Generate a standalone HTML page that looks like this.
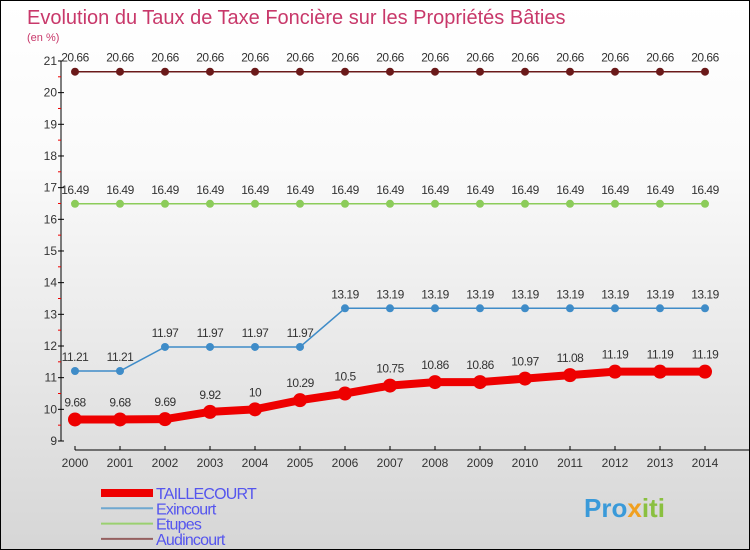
<!DOCTYPE html>
<html><head><meta charset="utf-8"><style>
body{margin:0}
#c{width:750px;height:550px;position:relative;box-sizing:border-box;border:1px solid #000;background:linear-gradient(#fff,#fafafa 30%,#d6d6d6);font-family:"Liberation Sans",sans-serif;overflow:hidden}
</style></head><body>
<div id="c">
<svg id="s" width="748" height="548" font-family="Liberation Sans,sans-serif">
<text x="26" y="23" font-size="20" fill="#c8386a">Evolution du Taux de Taxe Foncière sur les Propriétés Bâties</text>
<text x="26" y="40" font-size="11" fill="#c8386a">(en %)</text>
<g id="g"></g>
<text x="583" y="516" font-size="26" font-weight="bold" fill="#3a9ad9">Pro<tspan fill="#f0a020">x</tspan><tspan fill="#8ac040">iti</tspan></text>
</svg>
</div>
<script>
const years=[2000,2001,2002,2003,2004,2005,2006,2007,2008,2009,2010,2011,2012,2013,2014];
const taillecourt=[9.68,9.68,9.69,9.92,10,10.29,10.5,10.75,10.86,10.86,10.97,11.08,11.19,11.19,11.19];
const exincourt=[11.21,11.21,11.97,11.97,11.97,11.97,13.19,13.19,13.19,13.19,13.19,13.19,13.19,13.19,13.19];
const etupes=[16.49,16.49,16.49,16.49,16.49,16.49,16.49,16.49,16.49,16.49,16.49,16.49,16.49,16.49,16.49];
const audincourt=[20.66,20.66,20.66,20.66,20.66,20.66,20.66,20.66,20.66,20.66,20.66,20.66,20.66,20.66,20.66];
const yTicks=[9,10,11,12,13,14,15,16,17,18,19,20,21];
const NS="http://www.w3.org/2000/svg",g=document.getElementById('g');
const X=i=>74+i*45, Y=v=>440-(v-9)*31.67;
function mk(t,a,name){const e=document.createElementNS(NS,t);for(const k in a)e.setAttribute(k,a[k]);


g.appendChild(e);return e;}
mk('line',{x1:60,y1:Y(21),x2:60,y2:Y(9),stroke:'#000'},'y-axis');
mk('line',{x1:74,y1:449,x2:748,y2:449,stroke:'#000'},'x-axis');
yTicks.forEach(v=>{mk('line',{x1:57,y1:Y(v),x2:63,y2:Y(v),stroke:'#000'},'y-tick');
if(v<21)mk('line',{x1:57,y1:Y(v+0.5),x2:60,y2:Y(v+0.5),stroke:'#e00'},'y-minor-tick');
const t=mk('text',{x:56,y:Y(v)+4,'font-size':12,fill:'#333','text-anchor':'end'},'y-tick-label');t.textContent=v;});
years.forEach((y,i)=>{mk('line',{x1:X(i),y1:445,x2:X(i),y2:449,stroke:'#000'},'x-tick');
const t=mk('text',{x:X(i),y:466,'font-size':12,fill:'#333','text-anchor':'middle'},'x-tick-label');t.textContent=y;});
function series(d,col,w,r,name){
mk('polyline',{points:d.map((v,i)=>X(i)+','+Y(v)).join(' '),fill:'none',stroke:col,'stroke-width':w},name+'-line');
d.forEach((v,i)=>{mk('circle',{cx:X(i),cy:Y(v),r:r,fill:col},name+'-point');
const t=mk('text',{x:X(i),y:Y(v)-(r+6),'font-size':12,fill:'#333','text-anchor':'middle','letter-spacing':'-0.5'},name+'-value');t.textContent=v;});}
series(audincourt,'#6b1a1a',1.5,4,'audincourt');
series(etupes,'#8ccc5a',1.5,4,'etupes');
series(exincourt,'#3f8cc8',1.5,4,'exincourt');
series(taillecourt,'#ee0000',8,7,'taillecourt');
const leg=[['TAILLECOURT','#ee0000',8],['Exincourt','#6fa8d0',2],['Etupes','#9ad070',2],['Audincourt','#956060',2]];
leg.forEach((l,i)=>{const y=492+i*15.3;
mk('line',{x1:100,y1:y,x2:152,y2:y,stroke:l[1],'stroke-width':l[2]},'legend-swatch');
const t=mk('text',{x:155,y:y+6,'font-size':16,fill:'#5555ee','letter-spacing':'-0.8'},'legend-entry');t.textContent=l[0];});
</script>
</body></html>
